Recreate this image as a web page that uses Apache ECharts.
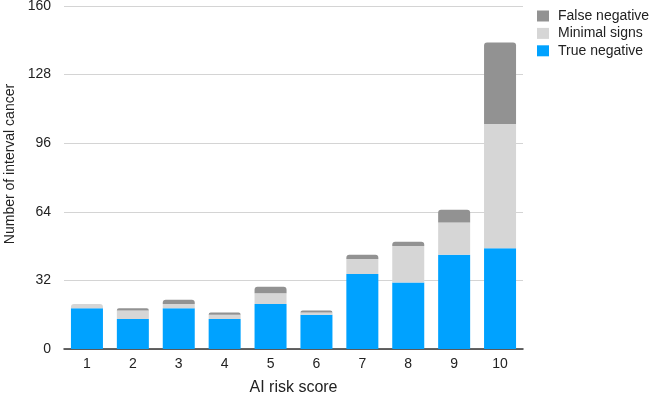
<!DOCTYPE html>
<html>
<head>
<meta charset="utf-8">
<script src="https://cdn.jsdelivr.net/npm/echarts@6/dist/echarts.min.js"></script>
<style>html,body{margin:0;padding:0;background:#fff}#c{width:657px;height:400px}</style>
</head>
<body>
<div id="c"></div>
<script>
const categories = ['1','2','3','4','5','6','7','8','9','10'];
const trueNegative = [19, 14, 19, 14, 21, 16, 35, 31, 44, 47];
const minimalSigns = [2, 4, 2, 2, 5, 1, 7, 17, 15, 58];
const falseNegative = [0, 1, 2, 1, 3, 1, 2, 2, 6, 38];
const yTicks = [0, 32, 64, 96, 128, 160];

const topRadius = [3, 3, 0, 0];
function buildData(values, isTop) {
  return values.map((v, i) => {
    const top = isTop(i);
    return top ? { value: v, itemStyle: { borderRadius: topRadius } } : v;
  });
}

const font = 'Liberation Sans, Arial, Helvetica, sans-serif';
const chart = echarts.init(document.getElementById('c'));
chart.setOption({
  animation: false,
  grid: { left: 64, right: 134, top: 6, bottom: 51, containLabel: false, outerBoundsMode: 'none' },
  legend: {
    orient: 'vertical',
    left: 532,
    top: 4,
    itemWidth: 12,
    itemHeight: 11,
    itemGap: 3.4,
    icon: 'rect',
    data: ['False negative', 'Minimal signs', 'True negative'],
    textStyle: { fontFamily: font, fontSize: 14, color: '#222', padding: [0, 0, 0, 4] }
  },
  xAxis: {
    type: 'category',
    data: categories,
    name: 'AI risk score',
    nameLocation: 'middle',
    nameGap: 31,
    nameTextStyle: { fontFamily: font, fontSize: 16, color: '#222' },
    axisLine: { lineStyle: { color: '#333', width: 1.5 } },
    axisTick: { show: false },
    axisLabel: { fontFamily: font, fontSize: 14, color: '#222', margin: 8 }
  },
  yAxis: {
    type: 'value',
    min: yTicks[0],
    max: yTicks[yTicks.length - 1],
    interval: 32,
    name: 'Number of interval cancer',
    nameLocation: 'middle',
    nameGap: 44,
    nameTextStyle: { fontFamily: font, fontSize: 14, color: '#222', padding: [0, 0, 0, 27] },
    axisLine: { show: false },
    axisTick: { show: false },
    axisLabel: { fontFamily: font, fontSize: 14, color: '#222', margin: 13 },
    splitLine: { lineStyle: { color: '#d4d4d4', width: 1 } }
  },
  series: [
    {
      name: 'True negative', type: 'bar', stack: 's', barWidth: 32,
      itemStyle: { color: '#00a2ff' },
      data: trueNegative
    },
    {
      name: 'Minimal signs', type: 'bar', stack: 's', barWidth: 32,
      itemStyle: { color: '#d6d6d6' },
      data: buildData(minimalSigns, i => falseNegative[i] === 0)
    },
    {
      name: 'False negative', type: 'bar', stack: 's', barWidth: 32,
      itemStyle: { color: '#929292' },
      data: buildData(falseNegative, i => falseNegative[i] > 0)
    }
  ]
});
</script>
</body>
</html>
